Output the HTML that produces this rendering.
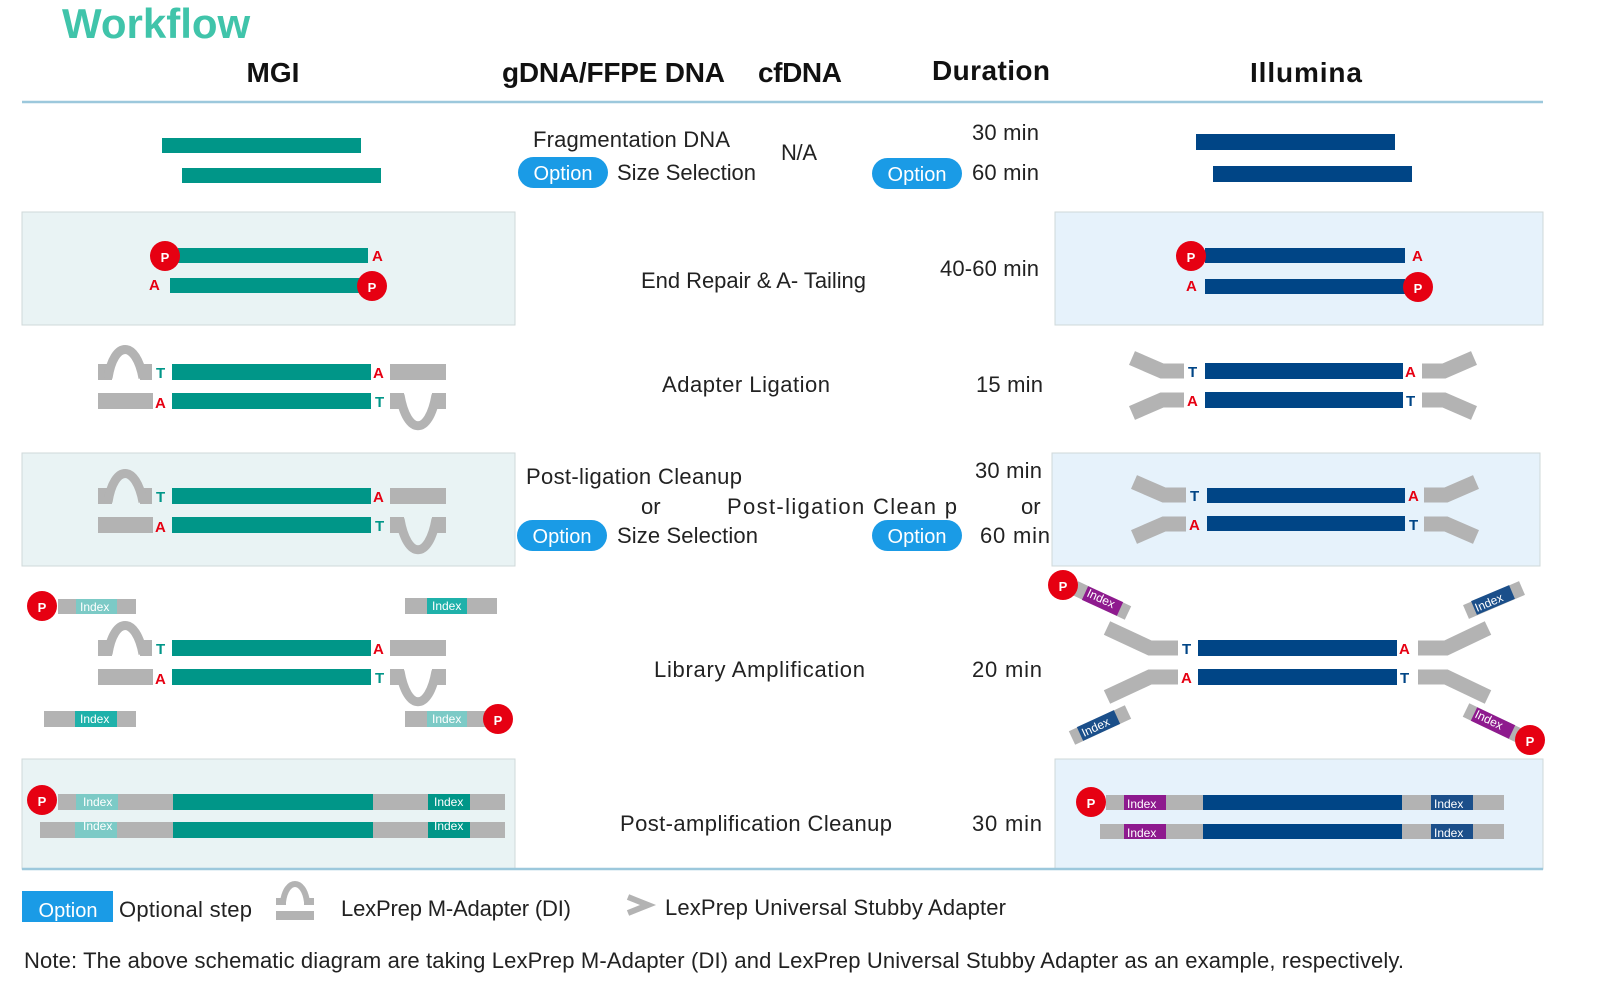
<!DOCTYPE html>
<html><head><meta charset="utf-8"><style>
html,body{margin:0;padding:0;background:#fff}
svg{display:block}
text{font-family:"Liberation Sans",sans-serif}
.t{font-size:22px;fill:#222}
.h{font-size:28px;font-weight:bold;fill:#111}
.pl{fill:#fff;font-size:13px;font-weight:bold;text-anchor:middle}
.idx{fill:#fff;font-size:12px}
.lt{font-size:15px;font-weight:bold}
</style></head><body>
<svg width="1600" height="1006" viewBox="0 0 1600 1006" xmlns="http://www.w3.org/2000/svg">
<defs>
<g id="P"><circle r="15" fill="#e60012"/><text y="6" class="pl" font-size="17">P</text></g>
<g id="mgiAd">
 <rect x="98" y="0" width="14" height="16" fill="#b3b3b3"/>
 <rect x="140" y="0" width="12" height="16" fill="#b3b3b3"/>
 <path d="M108 14 C114 -24,136 -24,143 14" stroke="#b3b3b3" stroke-width="9" fill="none"/>
 <text x="156" y="14" class="lt" fill="#009688">T</text>
 <rect x="172" y="0" width="199" height="16" fill="#009688"/>
 <text x="373" y="14" class="lt" fill="#e60012">A</text>
 <rect x="390" y="0" width="56" height="16" fill="#b3b3b3"/>
 <rect x="98" y="29" width="55" height="16" fill="#b3b3b3"/>
 <text x="155" y="44" class="lt" fill="#e60012">A</text>
 <rect x="172" y="29" width="199" height="16" fill="#009688"/>
 <text x="375" y="43" class="lt" fill="#009688">T</text>
 <rect x="390" y="29" width="14" height="16" fill="#b3b3b3"/>
 <rect x="432" y="29" width="14" height="16" fill="#b3b3b3"/>
 <path d="M400 31 C407 72,429 72,436 31" stroke="#b3b3b3" stroke-width="9" fill="none"/>
</g>
<g id="opt"><rect x="0" y="0" width="90" height="31" rx="15.5" fill="#1a9be6"/><text x="45" y="23" font-size="20" fill="#fff" text-anchor="middle">Option</text></g>
</defs>

<text x="62" y="38" font-size="42" font-weight="bold" fill="#40c4aa">Workflow</text>
<text x="273" y="82" class="h" text-anchor="middle">MGI</text>
<text x="502" y="82" class="h" textLength="223">gDNA/FFPE DNA</text>
<text x="758" y="82" class="h" textLength="84">cfDNA</text>
<text x="932" y="80" class="h" textLength="118">Duration</text>
<text x="1250" y="82" class="h" textLength="112">Illumina</text>
<line x1="22" y1="102" x2="1543" y2="102" stroke="#9cc8dc" stroke-width="2.5"/>

<!-- Row 1 -->
<rect x="162" y="138" width="199" height="15" fill="#009688"/>
<rect x="182" y="168" width="199" height="15" fill="#009688"/>
<text x="533" y="147" class="t" textLength="197">Fragmentation DNA</text>
<use href="#opt" x="518" y="157"/>
<text x="617" y="180" class="t" textLength="139">Size Selection</text>
<text x="781" y="160" class="t" textLength="36">N/A</text>
<text x="972" y="140" class="t" textLength="67">30 min</text>
<use href="#opt" x="872" y="158"/>
<text x="972" y="180" class="t" textLength="67">60 min</text>
<rect x="1196" y="134" width="199" height="16" fill="#004586"/>
<rect x="1213" y="166" width="199" height="16" fill="#004586"/>

<!-- Row 2 -->
<rect x="22" y="212" width="493" height="113" fill="#e9f3f4" stroke="#cfd8da"/>
<rect x="1055" y="212" width="488" height="113" fill="#e6f2fb" stroke="#cfd8da"/>
<rect x="178" y="248" width="190" height="15" fill="#009688"/>
<rect x="170" y="278" width="190" height="15" fill="#009688"/>
<use href="#P" x="165" y="256"/><use href="#P" x="372" y="286"/>
<text x="372" y="261" class="lt" fill="#e60012">A</text>
<text x="149" y="290" class="lt" fill="#e60012">A</text>
<text x="641" y="288" class="t" textLength="225">End Repair &amp; A- Tailing</text>
<text x="940" y="276" class="t" textLength="99">40-60 min</text>
<rect x="1205" y="248" width="200" height="15" fill="#004586"/>
<rect x="1205" y="279" width="200" height="15" fill="#004586"/>
<use href="#P" x="1191" y="256"/><use href="#P" x="1418" y="287"/>
<text x="1412" y="261" class="lt" fill="#e60012">A</text>
<text x="1186" y="291" class="lt" fill="#e60012">A</text>

<!-- Row 3 -->
<use href="#mgiAd" y="364"/>
<text x="662" y="392" class="t" textLength="168">Adapter Ligation</text>
<text x="976" y="392" class="t" textLength="67">15 min</text>
<g stroke="#b3b3b3" stroke-width="15" fill="none">
<polyline points="1132,358 1162,371 1184,371"/><polyline points="1184,400 1162,400 1132,413"/>
<polyline points="1422,371 1444,371 1474,358"/><polyline points="1422,400 1444,400 1474,413"/>
</g>
<rect x="1205" y="363" width="198" height="16" fill="#004586"/>
<rect x="1205" y="392" width="198" height="16" fill="#004586"/>
<text x="1188" y="377" class="lt" fill="#004586">T</text>
<text x="1405" y="377" class="lt" fill="#e60012">A</text>
<text x="1187" y="406" class="lt" fill="#e60012">A</text>
<text x="1406" y="406" class="lt" fill="#004586">T</text>

<!-- Row 4 -->
<rect x="22" y="453" width="493" height="113" fill="#e9f3f4" stroke="#cfd8da"/>
<rect x="1052" y="453" width="488" height="113" fill="#e6f2fb" stroke="#cfd8da"/>
<use href="#mgiAd" y="488"/>
<text x="526" y="484" class="t" textLength="216">Post-ligation Cleanup</text>
<text x="641" y="514" class="t">or</text>
<text x="727" y="514" class="t" textLength="230">Post-ligation Clean    p</text>
<text x="1021" y="514" class="t">or</text>
<use href="#opt" x="517" y="520"/>
<text x="617" y="543" class="t" textLength="141">Size Selection</text>
<text x="975" y="478" class="t" textLength="67">30 min</text>
<use href="#opt" x="872" y="520"/>
<text x="980" y="543" class="t" textLength="70">60 min</text>
<g stroke="#b3b3b3" stroke-width="15" fill="none">
<polyline points="1134,482 1164,495 1186,495"/><polyline points="1186,524 1164,524 1134,537"/>
<polyline points="1424,495 1446,495 1476,482"/><polyline points="1424,524 1446,524 1476,537"/>
</g>
<rect x="1207" y="488" width="198" height="15" fill="#004586"/>
<rect x="1207" y="516" width="198" height="15" fill="#004586"/>
<text x="1190" y="501" class="lt" fill="#004586">T</text>
<text x="1408" y="501" class="lt" fill="#e60012">A</text>
<text x="1189" y="530" class="lt" fill="#e60012">A</text>
<text x="1409" y="530" class="lt" fill="#004586">T</text>

<!-- Row 5 -->
<rect x="58" y="599" width="78" height="15" fill="#b3b3b3"/><rect x="76" y="599" width="41" height="15" fill="#7ccac6"/><text x="80" y="611" class="idx">Index</text>
<use href="#P" x="42" y="606"/>
<rect x="405" y="598" width="92" height="16" fill="#b3b3b3"/><rect x="427" y="598" width="40" height="16" fill="#1fb1aa"/><text x="432" y="610" class="idx">Index</text>
<use href="#mgiAd" y="640"/>
<rect x="44" y="711" width="92" height="16" fill="#b3b3b3"/><rect x="75" y="711" width="42" height="16" fill="#1fb1aa"/><text x="80" y="723" class="idx">Index</text>
<rect x="405" y="711" width="85" height="16" fill="#b3b3b3"/><rect x="427" y="711" width="40" height="16" fill="#7ccac6"/><text x="432" y="723" class="idx">Index</text>
<use href="#P" x="498" y="719"/>
<text x="654" y="677" class="t" textLength="211">Library Amplification</text>
<text x="972" y="677" class="t" textLength="70">20 min</text>
<g stroke="#b3b3b3" stroke-width="15" fill="none">
<polyline points="1107,628 1150,648 1178,648"/><polyline points="1178,677 1150,677 1107,697"/>
<polyline points="1418,648 1446,648 1488,628"/><polyline points="1418,677 1446,677 1488,697"/>
<line x1="1075" y1="588" x2="1128" y2="613"/><line x1="1072" y1="738" x2="1128" y2="712"/>
<line x1="1466" y1="612" x2="1522" y2="588"/><line x1="1466" y1="710" x2="1522" y2="737"/>
</g>
<g stroke-width="15">
<line x1="1085" y1="593" x2="1120" y2="609" stroke="#8e1a8e"/>
<line x1="1080" y1="734" x2="1117" y2="717" stroke="#1b4f8a"/>
<line x1="1474" y1="608" x2="1512" y2="592" stroke="#1b4f8a"/>
<line x1="1474" y1="714" x2="1512" y2="732" stroke="#8e1a8e"/>
</g>
<text class="idx" transform="translate(1086,596) rotate(25)">Index</text>
<text class="idx" transform="translate(1084,737) rotate(-25)">Index</text>
<text class="idx" transform="translate(1477,612) rotate(-23)">Index</text>
<text class="idx" transform="translate(1474,717) rotate(26)">Index</text>
<use href="#P" x="1063" y="585"/><use href="#P" x="1530" y="740"/>
<rect x="1198" y="640" width="199" height="16" fill="#004586"/>
<rect x="1198" y="669" width="199" height="16" fill="#004586"/>
<text x="1182" y="654" class="lt" fill="#004586">T</text>
<text x="1399" y="654" class="lt" fill="#e60012">A</text>
<text x="1181" y="683" class="lt" fill="#e60012">A</text>
<text x="1400" y="683" class="lt" fill="#004586">T</text>

<!-- Row 6 -->
<rect x="22" y="759" width="493" height="110" fill="#e9f3f4" stroke="#cfd8da"/>
<rect x="1055" y="759" width="488" height="110" fill="#e6f2fb" stroke="#cfd8da"/>
<rect x="58" y="794" width="447" height="16" fill="#b3b3b3"/><rect x="76" y="794" width="42" height="16" fill="#7ccac6"/><rect x="173" y="794" width="200" height="16" fill="#009688"/><rect x="428" y="794" width="42" height="16" fill="#009688"/>
<text x="83" y="806" class="idx">Index</text><text x="434" y="806" class="idx">Index</text>
<rect x="40" y="822" width="465" height="16" fill="#b3b3b3"/><rect x="75" y="822" width="42" height="16" fill="#7ccac6"/><rect x="173" y="822" width="200" height="16" fill="#009688"/><rect x="428" y="822" width="42" height="16" fill="#009688"/>
<text x="83" y="830" class="idx">Index</text><text x="434" y="830" class="idx">Index</text>
<use href="#P" x="42" y="800"/>
<text x="620" y="831" class="t" textLength="272">Post-amplification Cleanup</text>
<text x="972" y="831" class="t" textLength="70">30 min</text>
<rect x="1106" y="795" width="398" height="15" fill="#b3b3b3"/><rect x="1124" y="795" width="42" height="15" fill="#8e1a8e"/><rect x="1203" y="795" width="199" height="15" fill="#004586"/><rect x="1431" y="795" width="42" height="15" fill="#1b4f8a"/>
<text x="1127" y="808" class="idx" font-size="13" fill="#ddd">Index</text><text x="1434" y="808" class="idx" font-size="13">Index</text>
<rect x="1100" y="824" width="404" height="15" fill="#b3b3b3"/><rect x="1124" y="824" width="42" height="15" fill="#8e1a8e"/><rect x="1203" y="824" width="199" height="15" fill="#004586"/><rect x="1431" y="824" width="42" height="15" fill="#1b4f8a"/>
<text x="1127" y="837" class="idx" font-size="13">Index</text><text x="1434" y="837" class="idx" font-size="13">Index</text>
<use href="#P" x="1091" y="802"/>
<line x1="22" y1="869" x2="1543" y2="869" stroke="#9cc8dc" stroke-width="2.5"/>

<!-- Legend -->
<rect x="22" y="891" width="91" height="31" fill="#1a9be6"/><text x="68" y="917" font-size="20" fill="#fff" text-anchor="middle">Option</text>
<text x="119" y="917" class="t" textLength="133">Optional step</text>
<path d="M283 902 C286 878,304 878,307 902" stroke="#b3b3b3" stroke-width="6" fill="none"/>
<rect x="276" y="898" width="10" height="7" fill="#b3b3b3"/><rect x="304" y="898" width="10" height="7" fill="#b3b3b3"/>
<rect x="276" y="911" width="38" height="9" fill="#b3b3b3"/>
<text x="341" y="916" class="t" textLength="230">LexPrep M-Adapter (DI)</text>
<polyline points="628,897 648,905 628,913" stroke="#b3b3b3" stroke-width="6" fill="none"/>
<text x="665" y="915" class="t" textLength="341">LexPrep  Universal Stubby Adapter</text>
<text x="24" y="968" class="t" textLength="1380">Note: The above schematic diagram are taking LexPrep M-Adapter (DI) and LexPrep Universal Stubby Adapter as an example, respectively.</text>
</svg>
</body></html>
